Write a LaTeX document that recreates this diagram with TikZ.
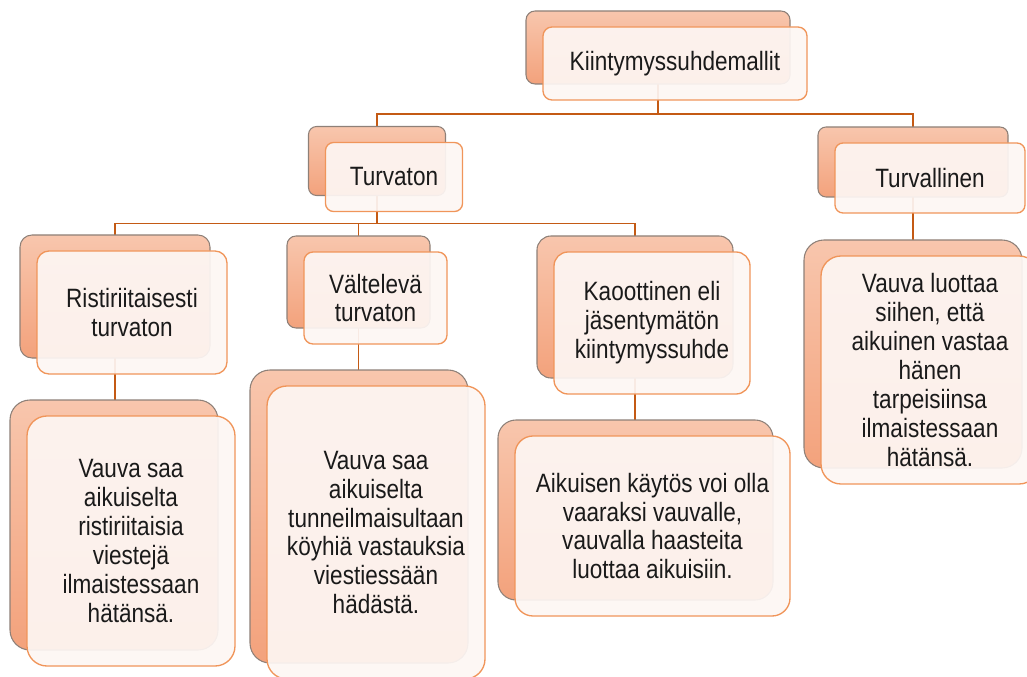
\documentclass[tikz,border=0pt]{standalone}
\usepackage{fontspec}
\setmainfont{Liberation Sans}[FakeStretch=0.85]
\usetikzlibrary{calc}

\pgfdeclarelayer{links}
\pgfsetlayers{links,main}

\definecolor{linkcol}{HTML}{C45A14}
\definecolor{backtop}{HTML}{F8C6AD}
\definecolor{backbot}{HTML}{F3A27C}
\definecolor{backline}{HTML}{8E8078}
\definecolor{frontfill}{HTML}{FDF6F3}
\definecolor{frontline}{HTML}{F0955A}
\definecolor{inkcol}{HTML}{1A1A1A}

% One entry of the chart: a shaded card with a lighter card laid over it.
% #1 name, #2 centre x, #3 centre y, #4 width, #5 height, #6 corner radius, #7 text
\newcommand\tierpair[7]{%
  \node[backbox, rounded corners=#6*0.75pt,
        minimum width=#4*0.75pt, minimum height=#5*0.75pt] (b#1) at (#2,#3) {};
  \node[frontbox, rounded corners=#6*0.75pt,
        minimum width=#4*0.75pt, minimum height=#5*0.75pt] (f#1)
        at ($(b#1)+(17,16)$) {#7};
}

\begin{document}
\begin{tikzpicture}[x=0.75pt,y=-0.75pt,
  backbox/.style={shape=rectangle, draw=backline, line width=0.8pt,
    top color=backtop, bottom color=backbot, inner sep=0pt, outer sep=0pt},
  frontbox/.style={shape=rectangle, draw=frontline, line width=1pt,
    fill=frontfill, fill opacity=0.93, text opacity=1, inner sep=0pt,
    align=center, text=inkcol, font=\fontsize{19.9}{21.7}\selectfont},
  link/.style={draw=linkcol, line width=1.4pt}]

\useasboundingbox (0,0) rectangle (1027,677);
\clip (0,0) rectangle (1027,677);

% --- cards ---
\tierpair{top}{658}{47.5}{264}{73}{9}{Kiintymyssuhdemallit}
\tierpair{turv}{377}{161}{137}{69}{8}{Turvaton}
\tierpair{trl}{913}{162}{190}{70}{8}{Turvallinen}
\tierpair{rist}{115}{296.5}{190}{123}{12}{Ristiriitaisesti\\turvaton}
\tierpair{valt}{358.5}{282}{143}{92}{9}{Vältelevä\\turvaton}
\tierpair{kaos}{635}{307}{196}{142}{14}{Kaoottinen eli\\jäsentymätön\\kiintymyssuhde}
\tierpair{rist2}{114}{525}{208}{250}{20}{Vauva saa\\aikuiselta\\ristiriitaisia\\viestejä\\ilmaistessaan\\hätänsä.}
\tierpair{valt2}{359}{516.5}{218}{293}{20}{Vauva saa\\aikuiselta\\tunneilmaisultaan\\köyhiä vastauksia\\viestiessään\\hädästä.}
\tierpair{kaos2}{635.5}{510}{275}{180}{18}{Aikuisen käytös voi olla\\vaaraksi vauvalle,\\vauvalla haasteita\\luottaa aikuisiin.}
\tierpair{trl2}{913}{354}{218}{228}{20}{Vauva luottaa\\siihen, että\\aikuinen vastaa\\hänen\\tarpeisiinsa\\ilmaistessaan\\hätänsä.}

% --- connectors, on a layer beneath the cards ---
\begin{pgfonlayer}{links}
  \draw[link] (btop.south) -- ++(0,30) coordinate (jtop) -| (bturv.north);
  \draw[link] (jtop) -| (btrl.north);
  \draw[link] (bturv.south) -- ++(0,28) coordinate (jturv) -| (brist.north);
  \draw[link] (jturv) -| (bvalt.north);
  \draw[link] (jturv) -| (bkaos.north);
  \draw[link] (brist.south) -- (brist.south |- brist2.north);
  \draw[link] (bvalt.south) -- (bvalt.south |- bvalt2.north);
  \draw[link] (bkaos.south) -- (bkaos.south |- bkaos2.north);
  \draw[link] (btrl.south) -- (btrl2.north);
\end{pgfonlayer}

\end{tikzpicture}
\end{document}
